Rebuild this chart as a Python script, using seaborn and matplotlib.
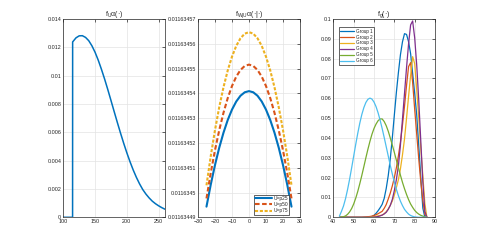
import matplotlib
matplotlib.use("Agg")
import matplotlib.pyplot as plt
import seaborn as sns
from matplotlib.ticker import FuncFormatter

# left panel: f_U
x_u = [100, 114.6, 114.7, 120, 125, 130, 135, 140, 145, 150, 155, 160, 165, 170, 175, 180, 185, 190,
       195, 200, 205, 210, 215, 220, 225, 230, 235, 240, 245, 250, 255, 260]
f_u = [0, 0, 0.01238, 0.01267, 0.01281, 0.01282, 0.01270, 0.01247, 0.01211, 0.01165, 0.01109, 0.01045,
       0.00976, 0.00902, 0.00825, 0.00747, 0.00670, 0.00595, 0.00523, 0.00455, 0.00392, 0.00334, 0.00282,
       0.00236, 0.00196, 0.00164, 0.00137, 0.00114, 0.00096, 0.00081, 0.00068, 0.00057]

# middle panel: f_W|U for three quantiles of U
x_w = [-25, -22.5, -20, -17.5, -15, -12.5, -10, -7.5, -5, -2.5, 0, 2.5, 5, 7.5, 10, 12.5, 15, 17.5, 20, 22.5, 25]
f_p25 = [0.0116344943, 0.01163450315, 0.01163451108, 0.01163451807, 0.01163452412, 0.01163452925,
         0.01163453344, 0.01163453671, 0.01163453904, 0.01163454043, 0.0116345409, 0.01163454043,
         0.01163453904, 0.01163453671, 0.01163453344, 0.01163452925, 0.01163452412, 0.01163451807,
         0.01163451108, 0.01163450315, 0.0116344943]
f_p50 = [0.0116344976, 0.01163450786, 0.01163451704, 0.01163452514, 0.01163453216, 0.0116345381,
         0.01163454296, 0.01163454674, 0.01163454944, 0.01163455106, 0.0116345516, 0.01163455106,
         0.01163454944, 0.01163454674, 0.01163454296, 0.0116345381, 0.01163453216, 0.01163452514,
         0.01163451704, 0.01163450786, 0.0116344976]
f_p75 = [0.0116345029, 0.01163451464, 0.01163452515, 0.01163453442, 0.01163454245, 0.01163454925,
         0.01163455481, 0.01163455914, 0.01163456223, 0.01163456408, 0.0116345647, 0.01163456408,
         0.01163456223, 0.01163455914, 0.01163455481, 0.01163454925, 0.01163454245, 0.01163453442,
         0.01163452515, 0.01163451464, 0.0116345029]
w_labels = ['U=p25', 'U=p50', 'U=p75']
w_ticks = [0.01163449, 0.0116345, 0.01163451, 0.01163452, 0.01163453, 0.01163454, 0.01163455, 0.01163456,
           0.01163457]

# right panel: f_g per group
x_g = list(range(43, 87))
g1 = [0] * 15 + [0.0001, 0.0004, 0.0010, 0.0020, 0.0033, 0.0048, 0.0065, 0.0095, 0.0145, 0.0210, 0.0295,
                 0.0400, 0.0516, 0.0630, 0.0730, 0.0820, 0.0885, 0.0926, 0.0922, 0.0885, 0.0825, 0.0725,
                 0.0625, 0.0516, 0.0360, 0.0202, 0.0047, 0, 0]
g2 = [0] * 12 + [0.0001, 0.0002, 0.0003, 0.0004, 0.0006, 0.0009, 0.0013, 0.0018, 0.0024, 0.0030, 0.0045,
                 0.0064, 0.0092, 0.0122, 0.0158, 0.0200, 0.0250, 0.0310, 0.0380, 0.0465, 0.0560, 0.0665,
                 0.0760, 0.0780, 0.0680, 0.0545, 0.0420, 0.0295, 0.0180, 0.0085, 0.0015, 0]
g3 = [0] * 15 + [0.0001, 0.0002, 0.0003, 0.0005, 0.0007, 0.0009, 0.0011, 0.0018, 0.0028, 0.0042, 0.0060,
                 0.0082, 0.0112, 0.0150, 0.0190, 0.0245, 0.0315, 0.0395, 0.0500, 0.0610, 0.0715, 0.0810,
                 0.0775, 0.0645, 0.0500, 0.0348, 0.0210, 0.0070, 0]
g4 = [0] * 17 + [0.0001, 0.0002, 0.0004, 0.0007, 0.0011, 0.0017, 0.0025, 0.0040, 0.0060, 0.0090, 0.0135,
                 0.0190, 0.0260, 0.0365, 0.0495, 0.0625, 0.0755, 0.0875, 0.0970, 0.0990, 0.0905, 0.0768,
                 0.0590, 0.0385, 0.0180, 0.0030, 0]
g5 = [0, 0.0001, 0.0003, 0.0007, 0.0015, 0.0027, 0.0044, 0.0067, 0.0096, 0.0130, 0.0169, 0.0211, 0.0255,
      0.0300, 0.0343, 0.0383, 0.0419, 0.0448, 0.0470, 0.0487, 0.0496, 0.0496, 0.0483, 0.0462, 0.0434,
      0.0400, 0.0364, 0.0327, 0.0288, 0.0250, 0.0212, 0.0176, 0.0144, 0.0115, 0.0089, 0.0067, 0.0050,
      0.0035, 0.0024, 0.0016, 0.0010, 0.0006, 0.0002, 0]
g6 = [0.0006, 0.0030, 0.0057, 0.0094, 0.0140, 0.0192, 0.0249, 0.0308, 0.0367, 0.0423, 0.0474, 0.0518,
      0.0553, 0.0579, 0.0595, 0.0601, 0.0596, 0.0581, 0.0558, 0.0527, 0.0490, 0.0448, 0.0403, 0.0356,
      0.0309, 0.0262, 0.0218, 0.0178, 0.0141, 0.0109, 0.0081, 0.0059, 0.0040, 0.0027, 0.0016, 0.0009,
      0.0005, 0.0002, 0.0001, 0, 0, 0, 0, 0]
groups = ['Group 1', 'Group 2', 'Group 3', 'Group 4', 'Group 5', 'Group 6']

sns.set_style("white")
plt.rcParams['font.family'] = ['Liberation Sans', 'DejaVu Sans']
plt.rcParams['mathtext.fontset'] = 'custom'
plt.rcParams['mathtext.rm'] = 'Liberation Sans'
plt.rcParams['mathtext.it'] = 'Liberation Sans:italic'

colors = ['#0072BD', '#D95319', '#EDB120', '#7E2F8E', '#77AC30', '#4DBEEE']
fig = plt.figure(figsize=(4.81, 2.45), dpi=100)
ax1 = fig.add_axes([0.1316, 0.1131, 0.2114, 0.8094])
ax2 = fig.add_axes([0.4116, 0.1131, 0.2121, 0.8094])
ax3 = fig.add_axes([0.6930, 0.1131, 0.2114, 0.8094])


def matlab_axes(ax):
    ax.grid(True, color='#e3e3e3', linewidth=0.5)
    ax.set_axisbelow(True)
    for s in ax.spines.values():
        s.set_color('#262626')
        s.set_linewidth(0.5)
    ax.tick_params(direction='in', length=2, width=0.5, labelsize=3.9, colors='#262626',
                   top=True, right=True, pad=1.5)


# f_U
sns.lineplot(x=x_u, y=f_u, ax=ax1, color=colors[0], linewidth=1.1, estimator=None, sort=False)
ax1.set_xlim(100, 260)
ax1.set_ylim(0, 0.014)
ax1.set_xticks([100, 150, 200, 250])
ax1.set_yticks([0, 0.002, 0.004, 0.006, 0.008, 0.01, 0.012, 0.014])
ax1.yaxis.set_major_formatter(FuncFormatter(lambda v, p: '%g' % round(v, 4)))
ax1.set_title(r'f$_\mathrm{U}$α(·)', fontsize=5, pad=2)
matlab_axes(ax1)

# f_W|U
dash_styles = [None, [2.2, 1.2], [1.5, 0.8]]
for ys, lab, c, d in zip([f_p25, f_p50, f_p75], w_labels, colors[:3], dash_styles):
    sns.lineplot(x=x_w, y=ys, ax=ax2, color=c, linewidth=1.5, label=lab, estimator=None)
    if d is not None:
        ax2.lines[-1].set_dashes(d)
ax2.set_xlim(-30, 30)
ax2.set_ylim(w_ticks[0], w_ticks[-1])
ax2.set_xticks([-30, -20, -10, 0, 10, 20, 30])
ax2.set_yticks(w_ticks)
ax2.yaxis.set_major_formatter(FuncFormatter(lambda v, p: ('%.8f' % v).rstrip('0')))
ax2.set_title(r'f$_\mathrm{W|U}$α(·|·)', fontsize=5, pad=2)
matlab_axes(ax2)
leg = ax2.legend(loc='lower right', fontsize=3.5, handlelength=3.4, handletextpad=0.3, borderpad=0.3,
                 labelspacing=0.25, fancybox=False, edgecolor='#262626', framealpha=1,
                 bbox_to_anchor=(0.92, 0.0))
leg.get_frame().set_linewidth(0.5)

# f_g
for ys, lab, c in zip([g1, g2, g3, g4, g5, g6], groups, colors):
    sns.lineplot(x=x_g, y=ys, ax=ax3, color=c, linewidth=0.9, label=lab, estimator=None)
ax3.set_xlim(40, 90)
ax3.set_ylim(0, 0.1)
ax3.set_xticks([40, 50, 60, 70, 80, 90])
ax3.set_yticks([0, 0.01, 0.02, 0.03, 0.04, 0.05, 0.06, 0.07, 0.08, 0.09, 0.1])
ax3.yaxis.set_major_formatter(FuncFormatter(lambda v, p: '%g' % round(v, 3)))
ax3.set_title(r'f$_\mathrm{g}$(·)', fontsize=5, pad=2)
matlab_axes(ax3)
leg3 = ax3.legend(loc='upper left', fontsize=3.3, handlelength=3.0, handletextpad=0.4, borderpad=0.3,
                  labelspacing=0.2, fancybox=False, edgecolor='#262626', framealpha=1,
                  bbox_to_anchor=(0.03, 0.97))
leg3.get_frame().set_linewidth(0.5)

fig.savefig('out.png', dpi=100)
